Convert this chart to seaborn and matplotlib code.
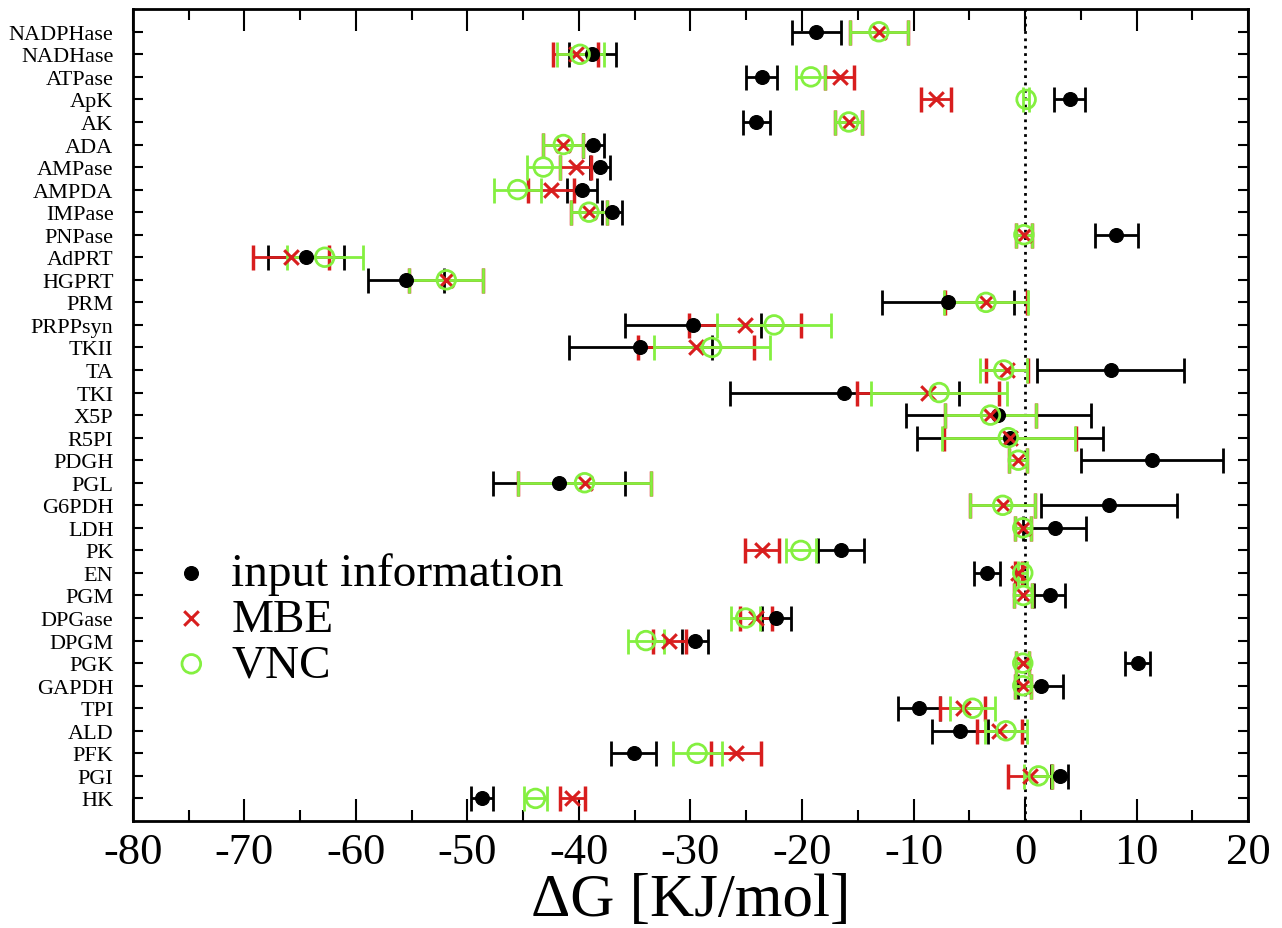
import numpy as np
import pandas as pd
import matplotlib
matplotlib.use('Agg')
import matplotlib.pyplot as plt
import seaborn as sns
from matplotlib.ticker import MultipleLocator

# reactions, top to bottom
names = ['NADPHase', 'NADHase', 'ATPase', 'ApK', 'AK', 'ADA', 'AMPase',
         'AMPDA', 'IMPase', 'PNPase', 'AdPRT', 'HGPRT', 'PRM', 'PRPPsyn',
         'TKII', 'TA', 'TKI', 'X5P', 'R5PI', 'PDGH', 'PGL', 'G6PDH', 'LDH',
         'PK', 'EN', 'PGM', 'DPGase', 'DPGM', 'PGK', 'GAPDH', 'TPI', 'ALD',
         'PFK', 'PGI', 'HK']

# input information
inp = [-18.7, -38.8, -23.6, 4.0, -24.1, -38.7, -38.1, -39.7, -37.0, 8.2,
       -64.5, -55.5, -6.9, -29.8, -34.5, 7.7, -16.2, -2.4, -1.35, 11.4,
       -41.8, 7.5, 2.65, -16.5, -3.4, 2.2, -22.3, -29.6, 10.1, 1.4,
       -9.5, -5.8, -35.1, 3.1, -48.7]
inp_err = [2.2, 2.1, 1.4, 1.4, 1.2, 0.9, 0.9, 1.35, 0.9, 1.9,
           3.4, 3.4, 5.9, 6.1, 6.4, 6.6, 10.3, 8.3, 8.35, 6.35,
           5.9, 6.1, 2.8, 2.1, 1.2, 1.4, 1.3, 1.15, 1.1, 2.0,
           1.9, 2.5, 2.0, 0.8, 1.0]

# MBE
mbe = [-13.1, -40.3, -16.6, -8.0, -15.8, -41.4, -40.3, -42.5, -39.1, -0.1,
       -65.8, -51.9, -3.5, -25.1, -29.5, -1.6, -8.7, -3.1, -1.35, -0.6,
       -39.5, -2.0, -0.2, -23.6, -0.6, -0.15, -24.1, -31.9, -0.2, -0.2,
       -5.6, -2.3, -25.9, 0.46, -40.6]
mbe_err = [2.6, 2.0, 1.3, 1.35, 1.2, 1.8, 1.4, 2.05, 1.65, 0.7,
           3.4, 3.3, 3.7, 5.0, 5.2, 1.9, 6.4, 4.1, 5.95, 0.8,
           6.0, 2.9, 0.7, 1.5, 0.3, 0.8, 1.45, 1.5, 0.6, 0.7,
           2.0, 2.0, 2.25, 2.0, 1.1]

# VNC
vnc = [-13.1, -39.9, -19.2, 0.1, -15.8, -41.4, -43.2, -45.5, -39.1, -0.1,
       -62.8, -51.9, -3.5, -22.5, -28.1, -1.9, -7.7, -3.1, -1.5, -0.6,
       -39.5, -2.0, -0.2, -20.1, -0.2, -0.15, -25.05, -34.0, -0.2, -0.2,
       -4.7, -1.7, -29.4, 1.2, -43.9]
vnc_err = [2.6, 2.1, 1.3, 0.3, 1.2, 1.8, 1.5, 2.1, 1.65, 0.7,
           3.4, 3.3, 3.8, 5.1, 5.2, 2.1, 6.1, 4.1, 5.95, 0.8,
           6.0, 2.9, 0.7, 1.35, 0.4, 0.8, 1.3, 1.6, 0.6, 0.7,
           2.0, 1.85, 2.2, 1.25, 1.05]

red = '#d81e1e'
green = '#84f040'

sns.set_style('ticks')
plt.rcParams['font.family'] = ['Liberation Serif', 'DejaVu Serif']
plt.rcParams['axes.unicode_minus'] = False
plt.rcParams['text.color'] = 'black'
plt.rcParams['axes.labelcolor'] = 'black'
plt.rcParams['axes.edgecolor'] = 'black'
plt.rcParams['xtick.color'] = 'black'
plt.rcParams['ytick.color'] = 'black'

pos = np.arange(len(names))
frame = pd.DataFrame({'name': names, 'pos': pos, 'inp': inp, 'inp_err': inp_err,
                      'mbe': mbe, 'mbe_err': mbe_err,
                      'vnc': vnc, 'vnc_err': vnc_err})

fig = plt.figure(figsize=(12.82, 9.29), dpi=100)
ax = fig.add_axes([0.1037, 0.1152, 0.8698, 0.8738])

ax.axvline(0, color='black', linestyle=':', linewidth=2, zorder=1)

# error bars
ax.errorbar(frame['inp'], frame['pos'], xerr=frame['inp_err'], fmt='none',
            ecolor='black', elinewidth=2, capsize=9, capthick=2, zorder=2)
ax.errorbar(frame['mbe'], frame['pos'], xerr=frame['mbe_err'], fmt='none',
            ecolor=red, elinewidth=2, capsize=9, capthick=2.5, zorder=3)
ax.errorbar(frame['vnc'], frame['pos'], xerr=frame['vnc_err'], fmt='none',
            ecolor=green, elinewidth=2, capsize=9, capthick=2, zorder=4)

# points
sns.scatterplot(data=frame, x='inp', y='pos', ax=ax, color='black', s=100,
                marker='o', edgecolor='black', label='input information',
                zorder=5)
sns.scatterplot(data=frame, x='mbe', y='pos', ax=ax, color=red, s=110,
                marker='x', linewidth=2.2, label='MBE', zorder=6)
sns.scatterplot(data=frame, x='vnc', y='pos', ax=ax, s=180, marker='o',
                facecolor='none', edgecolor=green, linewidth=2, label='VNC',
                zorder=7)

ax.set_xlim(-80, 20)
ax.set_ylim(len(names), -1)
ax.set_yticks(pos)
ax.set_yticklabels(names, fontsize=16)
ax.xaxis.set_major_locator(MultipleLocator(10))
ax.xaxis.set_minor_locator(MultipleLocator(5))
ax.tick_params(axis='x', which='major', direction='in', length=16, width=1.5,
               top=True, labelsize=32, pad=8)
ax.tick_params(axis='x', which='minor', direction='in', length=8, width=1.5,
               top=True)
ax.tick_params(axis='y', direction='in', length=7, width=1.5, right=True,
               pad=14)
for s in ax.spines.values():
    s.set_linewidth(2)

ax.set_xlabel('ΔG [KJ/mol]', fontsize=44, labelpad=0)
ax.set_ylabel('')

ax.legend(loc='upper left', bbox_to_anchor=(0.01, 0.36), frameon=False,
          fontsize=34, handletextpad=0.35, handlelength=1.0, labelspacing=0.05,
          borderpad=0, markerscale=1.0)

fig.savefig('out.png', dpi=100)
